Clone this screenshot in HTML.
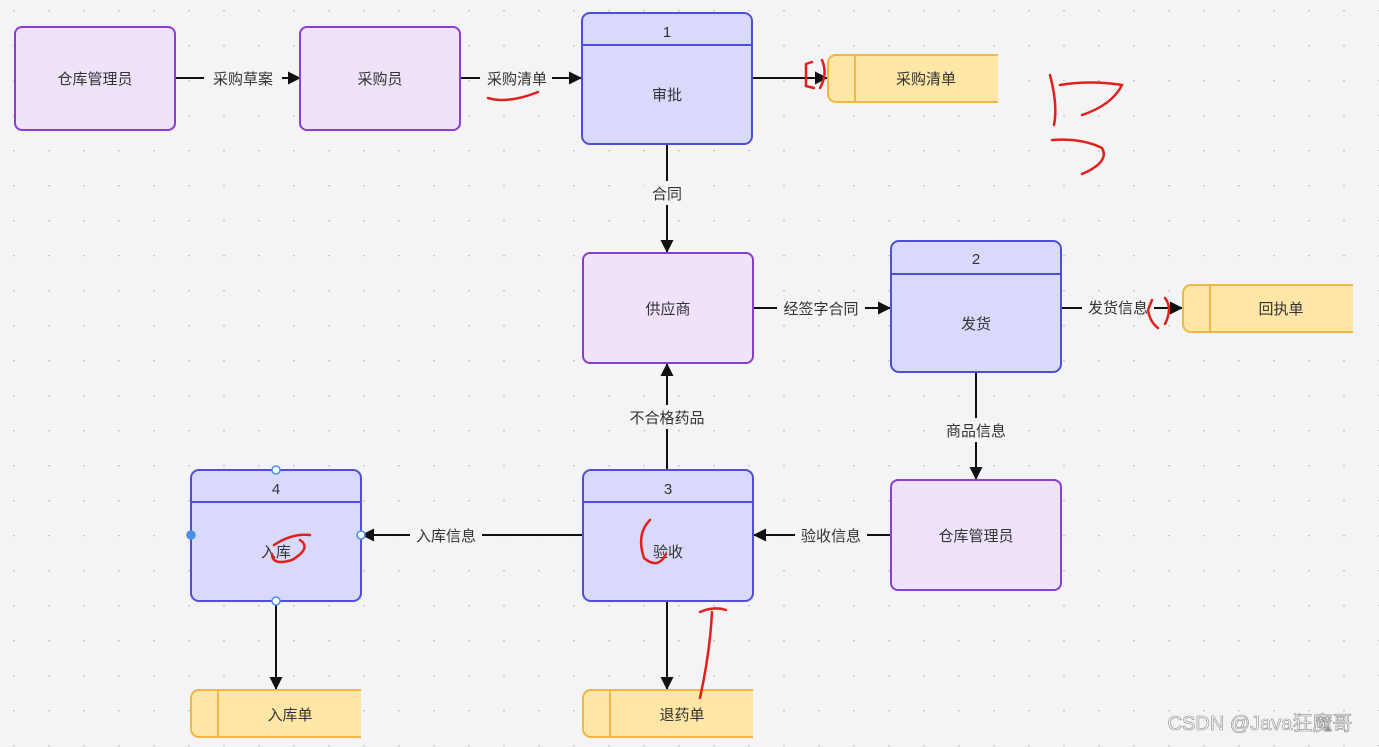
<!DOCTYPE html>
<html><head><meta charset="utf-8"><style>
html,body{margin:0;padding:0;background:#f4f3f6;}
svg{display:block;font-family:"Liberation Sans","Noto Sans CJK SC",sans-serif;}
</style></head><body>
<svg width="1379" height="747" viewBox="0 0 1379 747" xmlns="http://www.w3.org/2000/svg">
<defs>
<pattern id="d" width="35" height="35" patternUnits="userSpaceOnUse" x="4" y="10"><circle cx="10" cy="0.5" r="1" fill="#c4c4c8"/></pattern>
<marker id="a" markerWidth="13" markerHeight="13" refX="12" refY="6.5" orient="auto" markerUnits="userSpaceOnUse"><path d="M0,0 L13,6.5 L0,13z" fill="#111"/></marker>
</defs>
<rect width="1379" height="747" fill="#f4f3f6"/>
<rect width="1379" height="747" fill="url(#d)"/>
<g stroke="#111" stroke-width="2" fill="none" marker-end="url(#a)">
<line x1="175" y1="78" x2="300" y2="78"/>
<line x1="460" y1="78" x2="581" y2="78"/>
<line x1="752" y1="78" x2="827" y2="78"/>
<line x1="667" y1="144" x2="667" y2="252"/>
<line x1="753" y1="308" x2="890" y2="308"/>
<line x1="1061" y1="308" x2="1182" y2="308"/>
<line x1="976" y1="372" x2="976" y2="479"/>
<line x1="891" y1="535" x2="754" y2="535"/>
<line x1="667" y1="470" x2="667" y2="364"/>
<line x1="583" y1="535" x2="362" y2="535"/>
<line x1="276" y1="601" x2="276" y2="689"/>
<line x1="667" y1="601" x2="667" y2="689"/>
</g>
<g font-size="15" fill="#333" text-anchor="middle">
<rect x="204" y="66" width="78" height="24" fill="#f4f3f6"/><text x="243" y="84">采购草案</text>
<rect x="480" y="66" width="72" height="24" fill="#f4f3f6"/><text x="517" y="84">采购清单</text>
<rect x="644" y="181" width="46" height="24" fill="#f4f3f6"/><text x="667" y="199">合同</text>
<rect x="777" y="296" width="88" height="24" fill="#f4f3f6"/><text x="821" y="314">经签字合同</text>
<rect x="1082" y="296" width="72" height="24" fill="#f4f3f6"/><text x="1118" y="313">发货信息</text>
<rect x="940" y="418" width="72" height="24" fill="#f4f3f6"/><text x="976" y="436">商品信息</text>
<rect x="795" y="523" width="72" height="24" fill="#f4f3f6"/><text x="831" y="541">验收信息</text>
<rect x="623" y="405" width="88" height="24" fill="#f4f3f6"/><text x="667" y="423">不合格药品</text>
<rect x="410" y="523" width="72" height="24" fill="#f4f3f6"/><text x="446" y="541">入库信息</text>
</g>
<g stroke="#8a3fd1" stroke-width="2" fill="#efe3fb">
<rect x="15" y="27" width="160" height="103" rx="7"/>
<rect x="300" y="27" width="160" height="103" rx="7"/>
<rect x="583" y="253" width="170" height="110" rx="7"/>
<rect x="891" y="480" width="170" height="110" rx="7"/>
</g>
<g stroke="#4f4fd6" stroke-width="2" fill="#d9dafb">
<rect x="582" y="13" width="170" height="131" rx="8"/><line x1="582" y1="45" x2="752" y2="45"/>
<rect x="891" y="241" width="170" height="131" rx="8"/><line x1="891" y1="274" x2="1061" y2="274"/>
<rect x="583" y="470" width="170" height="131" rx="8"/><line x1="583" y1="502" x2="753" y2="502"/>
<rect x="191" y="470" width="170" height="131" rx="8"/><line x1="191" y1="502" x2="361" y2="502"/>
</g>
<g stroke="#efb743" stroke-width="2" fill="#fde6a6">
<path d="M998,55 H836 a8,8 0 0 0 -8,8 V94 a8,8 0 0 0 8,8 H998"/><line x1="855" y1="55" x2="855" y2="102"/>
<path d="M1353,285 H1191 a8,8 0 0 0 -8,8 V324 a8,8 0 0 0 8,8 H1353"/><line x1="1210" y1="285" x2="1210" y2="332"/>
<path d="M361,690 H199 a8,8 0 0 0 -8,8 V729 a8,8 0 0 0 8,8 H361"/><line x1="218" y1="690" x2="218" y2="737"/>
<path d="M753,690 H591 a8,8 0 0 0 -8,8 V729 a8,8 0 0 0 8,8 H753"/><line x1="610" y1="690" x2="610" y2="737"/>
</g>
<g font-size="15" fill="#333" text-anchor="middle">
<text x="95" y="84">仓库管理员</text>
<text x="380" y="84">采购员</text>
<text x="667" y="37">1</text><text x="667" y="100">审批</text>
<text x="926" y="84">采购清单</text>
<text x="668" y="314">供应商</text>
<text x="976" y="264">2</text><text x="976" y="329">发货</text>
<text x="1281" y="314">回执单</text>
<text x="976" y="541">仓库管理员</text>
<text x="668" y="494">3</text><text x="668" y="557">验收</text>
<text x="276" y="494">4</text><text x="276" y="557">入库</text>
<text x="290" y="720">入库单</text>
<text x="682" y="720">退药单</text>
</g>
<g fill="#fff" stroke="#4a90e2" stroke-width="1.5">
<circle cx="276" cy="470" r="4"/><circle cx="276" cy="601" r="4"/><circle cx="361" cy="535" r="4"/>
<circle cx="191" cy="535" r="4" fill="#4a90e2"/>
</g>
<g stroke="#e0201a" stroke-width="2.5" fill="none" stroke-linecap="round">
<path d="M488,98 q20,6 50,-6"/>
<path d="M812,62 l-6,2 l0,22 l8,2 M822,60 q6,14 -2,28"/>
<path d="M1050,75 q8,30 4,50 M1060,85 q30,-5 62,0 q-10,20 -40,30 M1052,140 q30,-2 50,8 q8,14 -20,26"/>
<path d="M1152,300 l-4,10 q2,12 10,18 M1165,298 q8,10 0,26"/>
<path d="M274,545 q18,-12 36,-10 M300,540 q12,8 -8,20 q-20,6 -20,-6"/>
<path d="M650,520 q-14,14 -6,38 q14,12 22,-4"/>
<path d="M700,612 q14,-6 26,-2 M712,612 q-2,40 -12,86"/>
</g>
<text x="1260" y="730" font-size="20" fill="#fff" stroke="#888" stroke-width="0.6" text-anchor="middle">CSDN @Java狂魔哥</text>
</svg>
</body></html>
